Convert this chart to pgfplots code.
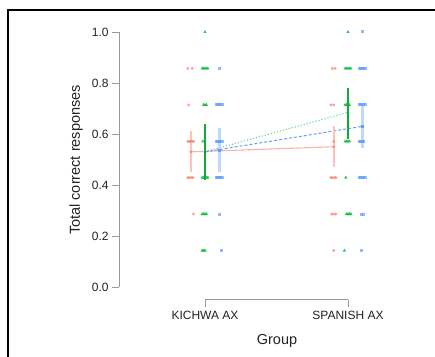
\documentclass[border=0pt]{standalone}
\usepackage{pgfplots}
\pgfplotsset{compat=1.18}
\usepackage{fontspec}
\setmainfont{Liberation Sans}
\definecolor{cred}{HTML}{F8766D}
\definecolor{cgreen}{HTML}{00BA38}
\definecolor{cgreenD}{HTML}{13A83A}
\definecolor{cblue}{HTML}{619CFF}
\definecolor{txt}{HTML}{222222}
\begin{document}
\begin{tikzpicture}[x=1pt,y=1pt]
\useasboundingbox (0,0) rectangle (435,356);
\draw[line width=2pt] (7.5,-2) -- (7.5,346) -- (437,346);
\begin{axis}[
  at={(119.2pt,56.25pt)}, anchor=south west,
  scale only axis, width=314.6pt, height=267.75pt,
  xmin=0.4, xmax=2.6, ymin=-0.05, ymax=1.0,
  clip=false,
  axis lines*=left,
  axis line style={draw=none},
  xtick={1,2}, xticklabels={KICHWA AX, SPANISH AX},
  ytick={0,0.2,0.4,0.6,0.8,1.0},
  yticklabel style={/pgf/number format/fixed,/pgf/number format/fixed zerofill,/pgf/number format/precision=1},
  /pgf/number format/assume math mode=true,
  tick align=outside, major tick length=7pt,
  tick style={color=gray!80, line width=0.6pt},
  ticklabel style={font=\fontsize{12}{14}\selectfont, text=txt},
  xticklabel style={yshift=-1pt},
]
% spines
\draw[gray!80, line width=0.6pt] (axis cs:0.4,0) -- (axis cs:0.4,1);
\draw[gray!80, line width=0.6pt] (axis cs:1,-0.05) -- (axis cs:2,-0.05);

% jittered raw points
\addplot[only marks, mark=*, mark size=1.6pt, cred, opacity=0.7, draw opacity=0] coordinates {
(0.88,0.857)(0.91,0.857)(0.885,0.714)
(0.88,0.571)(0.89,0.571)(0.90,0.571)(0.91,0.571)(0.92,0.571)
(0.88,0.429)(0.89,0.429)(0.905,0.429)(0.915,0.429)
(0.92,0.286)
(1.89,0.857)(1.91,0.857)(1.88,0.714)(1.90,0.714)(1.90,0.571)
(1.88,0.429)(1.89,0.429)(1.905,0.429)(1.915,0.429)
(1.885,0.286)(1.90,0.286)(1.915,0.286)(1.90,0.143)
};
\addplot[only marks, mark=triangle*, mark size=2pt, cgreen, opacity=0.8, draw opacity=0] coordinates {
(1.0,1.0)
(0.98,0.857)(0.99,0.857)(1.0,0.857)(1.01,0.857)(1.02,0.857)
(0.99,0.714)(1.0,0.714)(1.01,0.714)
(0.985,0.571)
(0.98,0.429)(0.99,0.429)(1.0,0.429)(1.01,0.429)(1.02,0.429)
(0.98,0.286)(0.99,0.286)(1.0,0.286)(1.01,0.286)
(0.98,0.143)(0.99,0.143)(1.0,0.143)
(2.0,1.0)
(1.98,0.857)(1.99,0.857)(2.0,0.857)(2.01,0.857)(2.02,0.857)
(1.98,0.714)(1.99,0.714)(2.0,0.714)(2.01,0.714)
(1.98,0.571)(1.99,0.571)(2.0,0.571)(2.01,0.571)
(1.985,0.429)
(1.99,0.286)(2.0,0.286)(2.01,0.286)(2.02,0.286)
(1.975,0.143)
};
\addplot[only marks, mark=square*, mark size=1.5pt, cblue, opacity=0.7, draw opacity=0] coordinates {
(1.10,0.857)
(1.08,0.714)(1.09,0.714)(1.10,0.714)(1.11,0.714)(1.12,0.714)
(1.08,0.571)(1.09,0.571)(1.10,0.571)(1.11,0.571)(1.12,0.571)
(1.08,0.429)(1.09,0.429)(1.10,0.429)(1.11,0.429)(1.12,0.429)
(1.10,0.286)(1.115,0.143)
(2.10,1.0)
(2.08,0.857)(2.09,0.857)(2.10,0.857)(2.11,0.857)(2.12,0.857)
(2.08,0.714)(2.09,0.714)(2.10,0.714)(2.11,0.714)(2.12,0.714)
(2.08,0.571)(2.09,0.571)(2.10,0.571)(2.11,0.571)
(2.08,0.429)(2.09,0.429)(2.10,0.429)(2.11,0.429)(2.12,0.429)
(2.095,0.286)(2.105,0.286)(2.095,0.143)
};

% mean lines
\addplot[cred!70, line width=1.1pt, opacity=0.8] coordinates {(0.9,0.53)(1.9,0.55)};
\addplot[cgreen!60, line width=1.1pt, dotted] coordinates {(1.0,0.53)(2.0,0.685)};
\addplot[cblue, line width=1pt, dash pattern=on 3pt off 2pt] coordinates {(1.0,0.53)(2.1,0.63)};

% error bars + means
\addplot[cred!85, only marks, mark=*, mark size=1.5pt, mark options={draw opacity=0},
  error bars/.cd, y dir=both, y explicit, error mark=none,
  error bar style={line width=2pt, draw=cred!45, solid}] coordinates {
(0.9,0.53) +- (0,0.08)
(1.9,0.55) +- (0,0.08)
};
\addplot[cblue, only marks, mark=square*, mark size=1.5pt, mark options={draw opacity=0},
  error bars/.cd, y dir=both, y explicit, error mark=none,
  error bar style={line width=2.5pt, draw=cblue!40, solid}] coordinates {
(1.1,0.537) += (0,0.088) -= (0,0.087)
(2.1,0.63) += (0,0.08) -= (0,0.085)
};
\addplot[cgreenD, only marks, mark=triangle*, mark size=1.8pt, mark options={draw opacity=0},
  error bars/.cd, y dir=both, y explicit, error mark=none,
  error bar style={line width=1.2pt, draw=cgreenD, solid}] coordinates {
(1.0,0.53) += (0,0.11) -= (0,0.11)
(2.0,0.685) += (0,0.095) -= (0,0.105)
};
\end{axis}
\node[rotate=90, font=\fontsize{14.5}{16}\selectfont, text=txt] at (76,196) {Total correct responses};
\node[font=\fontsize{14.5}{16}\selectfont, text=txt] at (277,15) {Group};
\end{tikzpicture}
\end{document}
